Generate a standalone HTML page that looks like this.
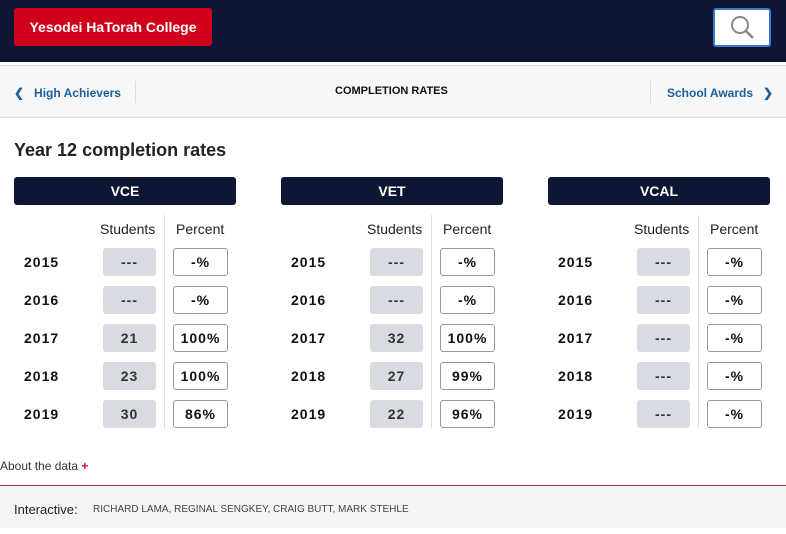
<!DOCTYPE html><html><head><style>
body{margin:0;width:786px;height:534px;position:relative;background:#fff;font-family:"Liberation Sans",sans-serif;overflow:hidden}
.a{position:absolute}
.hd{left:0;top:0;width:786px;height:62px;background:#0d1633}
.btn{left:14px;top:8px;width:198px;height:38px;background:#d0021b;border-radius:3px;color:#fff;font-weight:bold;font-size:14px;line-height:38px;text-align:center}
.sr{left:713px;top:8px;width:54px;height:35px;background:#fff;border:2px solid #3a78c9;border-radius:3px}
.nav{left:0;top:65px;width:786px;height:51px;background:#f6f7f8;border-top:1px solid #ddd;border-bottom:1px solid #ddd}
.nl{color:#1d5e9b;font-weight:bold;font-size:12px;top:86px}
.sec{height:28px;background:#0d1633;border-radius:3px;color:#fff;font-weight:bold;font-size:14px;line-height:28px;text-align:center;width:222px;top:177px}
.ch{top:221px;font-size:14px;color:#222}
.yr{font-weight:bold;font-size:14px;color:#111;letter-spacing:1px}
.sb{width:53px;height:28px;background:#d8dce2;border-radius:3px;text-align:center;line-height:28px;font-weight:bold;font-size:14px;color:#333;letter-spacing:1px}
.pb{width:53px;height:26px;background:#fff;border:1px solid #999;border-radius:3px;text-align:center;line-height:26px;font-weight:bold;font-size:14px;color:#111;letter-spacing:1px}
.vl{width:1px;background:#ddd;top:215px;height:213px}
</style></head><body>
<div class="a hd"></div>
<div class="a btn">Yesodei HaTorah College</div>
<div class="a sr"><svg width="54" height="35"><circle cx="25" cy="15" r="8" fill="none" stroke="#888" stroke-width="2"/><line x1="31" y1="21" x2="38" y2="28" stroke="#888" stroke-width="2.5"/></svg></div>
<div class="a nav"></div>
<div class="a" style="left:135px;top:81px;width:1px;height:22px;background:#ddd"></div>
<div class="a" style="left:650px;top:81px;width:1px;height:22px;background:#ddd"></div>
<div class="a nl" style="left:14px">❮&nbsp;&nbsp;&nbsp;High Achievers</div>
<div class="a" style="left:335px;top:85px;font-size:11px;font-weight:bold;color:#111">COMPLETION RATES</div>
<div class="a nl" style="left:667px">School Awards&nbsp;&nbsp;&nbsp;❯</div>
<div class="a" style="left:14px;top:140px;font-size:18px;font-weight:bold;color:#222">Year 12 completion rates</div>
<div id="c"></div>
<div class="a" style="left:0;top:459px;font-size:12px;color:#333">About the data <span style="color:#c8102e;font-weight:bold">+</span></div>
<div class="a" style="left:0;top:485px;width:786px;height:1px;background:#a33"></div>
<div class="a" style="left:0;top:486px;width:786px;height:42px;background:#f3f4f6"></div>
<div class="a" style="left:14px;top:502px;font-size:13px;color:#222">Interactive:</div>
<div class="a" style="left:93px;top:504px;font-size:10px;color:#444">RICHARD LAMA, REGINAL SENGKEY, CRAIG BUTT, MARK STEHLE</div>
<script>
var S=[["VCE",["---","---","21","23","30"],["-%","-%","100%","100%","86%"]],["VET",["---","---","32","27","22"],["-%","-%","100%","99%","96%"]],["VCAL",["---","---","---","---","---"],["-%","-%","-%","-%","-%"]]];
var h="";S.forEach(function(s,i){var o=i*267;
h+='<div class="a sec" style="left:'+(14+o)+'px">'+s[0]+'</div>';
h+='<div class="a ch" style="left:'+(100+o)+'px">Students</div><div class="a ch" style="left:'+(176+o)+'px">Percent</div>';
h+='<div class="a vl" style="left:'+(164+o)+'px"></div>';
for(var r=0;r<5;r++){var y=248+r*38;
h+='<div class="a yr" style="left:'+(24+o)+'px;top:'+(y+6)+'px">'+(2015+r)+'</div>';
h+='<div class="a sb" style="left:'+(103+o)+'px;top:'+y+'px">'+s[1][r]+'</div>';
h+='<div class="a pb" style="left:'+(173+o)+'px;top:'+y+'px">'+s[2][r]+'</div>';}});
document.getElementById("c").innerHTML=h;
</script>
</body></html>
